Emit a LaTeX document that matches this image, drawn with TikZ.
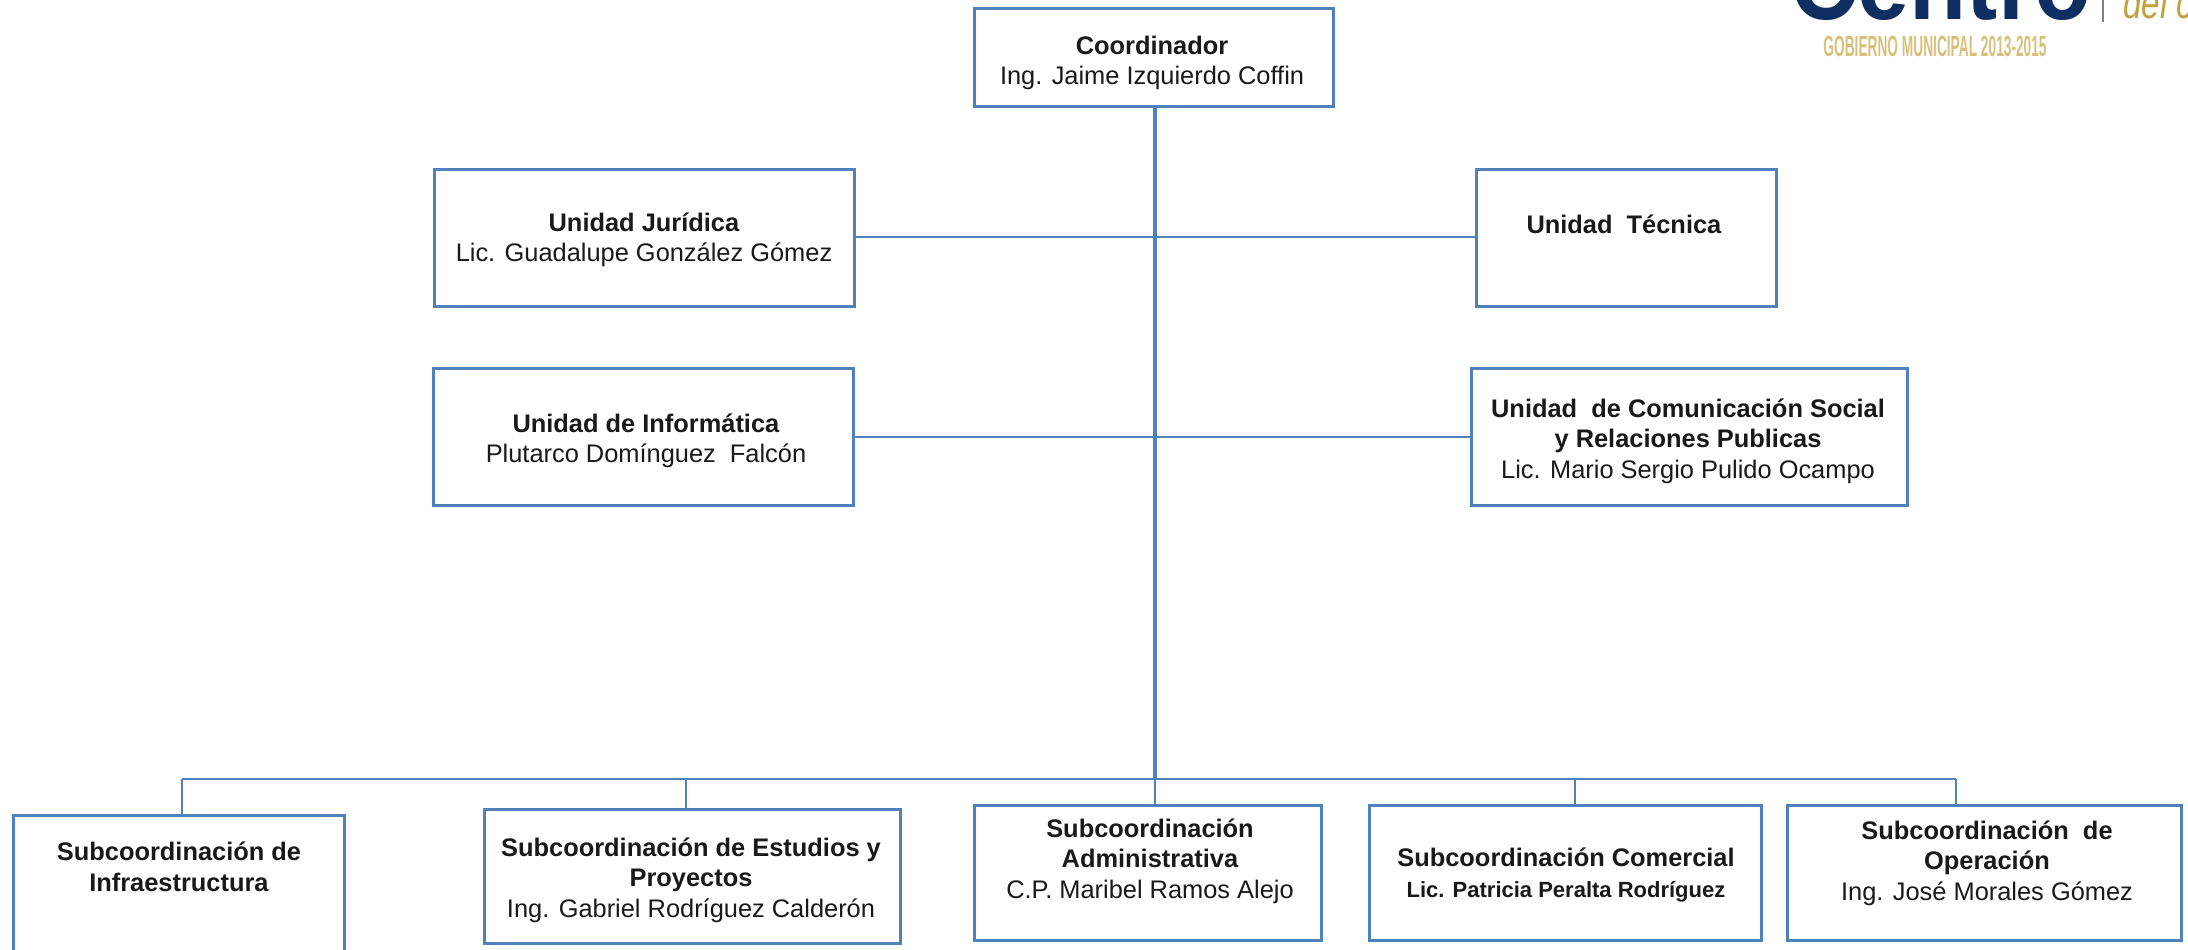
\documentclass[tikz,border=0pt]{standalone}
\usepackage{graphicx}
\usepackage{fontspec}
\setmainfont{Liberation Sans}
\definecolor{boxblue}{HTML}{4F81BD}
\definecolor{logonavy}{HTML}{0F2F63}
\definecolor{logogold}{HTML}{D9C07A}
\definecolor{logogold2}{HTML}{BFA23C}
\tikzset{
  orgbox/.style={draw=boxblue,line width=1.5pt,fill=white,rectangle,inner sep=0pt},
  orgtext/.style={align=center,inner sep=0pt,font=\fontsize{12.7}{15.3}\selectfont,text=black!90},
  link/.style={draw=boxblue,line width=1pt},
  trunk/.style={draw=boxblue,line width=1.7pt}
}
\newcommand{\orgnode}[5]{% name, x1,y1,x2,y2
  \node[orgbox,minimum width={(#4-#2)*0.5pt},minimum height={(#5-#3)*0.5pt}] (#1) at ({(#2+#4)/2},{(#3+#5)/2}) {};
}
\begin{document}
\begin{tikzpicture}[x=0.5pt,y=-0.5pt]
\useasboundingbox (0,0) rectangle (2188,949);
\begin{scope}
\clip (0,0) rectangle (2188,949);
% logo
\node[inner sep=0pt,anchor=base west,text=logonavy] (logoa) at (1790,19) {\scalebox{0.865}[1]{\fontsize{54}{54}\selectfont\bfseries Centro}};
\node[inner sep=0pt,anchor=base west,text=logogold2] (logob) at (2123,18) {\scalebox{0.75}[1]{\fontsize{22}{22}\selectfont\itshape del ca}};
\node[inner sep=0pt,text=logogold,anchor=center] (logoc) at (1935,46) {\scalebox{0.47}[1]{\fontsize{14.6}{15}\selectfont\bfseries GOBIERNO MUNICIPAL 2013-2015}};
\coordinate (logotop) at (2103,0);
\coordinate (logobot) at (2103,22);
\draw[gray,line width=1pt] (logotop) -- (logobot);
% boxes
\orgnode{coord}{974}{8}{1333}{106}
\orgnode{jur}{434}{169}{854}{306}
\orgnode{tec}{1476}{169}{1776}{306}
\orgnode{inf}{433}{368}{853}{505}
\orgnode{com}{1471}{368}{1907}{505}
\orgnode{sa}{13}{815}{344}{960}
\orgnode{sb}{484}{809}{900}{943}
\orgnode{sc}{974}{805}{1321}{940}
\orgnode{sd}{1369}{805}{1761}{940}
\orgnode{se}{1787}{805}{2181}{940}
% connectors
\coordinate (hub) at (1155,779);
\coordinate (hj) at (1155,237);
\coordinate (hi) at (1155,437);
\coordinate (ca) at (182,779);
\coordinate (cb) at (686,779);
\coordinate (cd) at (1575,779);
\coordinate (ce) at (1956,779);
\draw[link] (jur.east |- hj) -- (tec.west |- hj);
\draw[link] (inf.east |- hi) -- (com.west |- hi);
\draw[link] (ca) -- (ce);
\draw[link] (ca) -- (ca |- sa.north);
\draw[link] (cb) -- (cb |- sb.north);
\draw[link] (cd) -- (cd |- sd.north);
\draw[link] (ce) -- (ce |- se.north);
\draw[link] (hub) -- (hub |- sc.north);
\draw[trunk] (hub |- coord.south) -- (hub);
% text
\node[orgtext] (tcoord) at (1152,63) {\textbf{Coordinador}\\Ing. Jaime Izquierdo Coffin};
\node[orgtext] (tjur) at (644,240) {\textbf{Unidad Jurídica}\\Lic. Guadalupe González Gómez};
\node[orgtext] (ttec) at (1624,224) {\textbf{Unidad\ \ Técnica}};
\node[orgtext] (tinf) at (646,441) {\textbf{Unidad de Informática}\\Plutarco Domínguez\ \ Falcón};
\node[orgtext] (tcom) at (1688,441) {\textbf{Unidad\ \ de Comunicación Social}\\\textbf{y Relaciones Publicas}\\Lic. Mario Sergio Pulido Ocampo};
\node[orgtext] (tsa) at (179,867) {\textbf{Subcoordinación de}\\\textbf{Infraestructura}};
\node[orgtext] (tsb) at (691,880) {\textbf{Subcoordinación de Estudios y}\\\textbf{Proyectos}\\Ing. Gabriel Rodríguez Calderón};
\node[orgtext] (tsc) at (1150,861) {\textbf{Subcoordinación}\\\textbf{Administrativa}\\C.P. Maribel Ramos Alejo};
\node[orgtext] (tsd) at (1566,875) {\textbf{Subcoordinación Comercial}\\{\fontsize{11}{15.3}\selectfont\textbf{Lic. Patricia Peralta Rodríguez}}};
\node[orgtext] (tse) at (1987,863) {\textbf{Subcoordinación\ \ de}\\\textbf{Operación}\\Ing. José Morales Gómez};
\end{scope}
\end{tikzpicture}
\end{document}
